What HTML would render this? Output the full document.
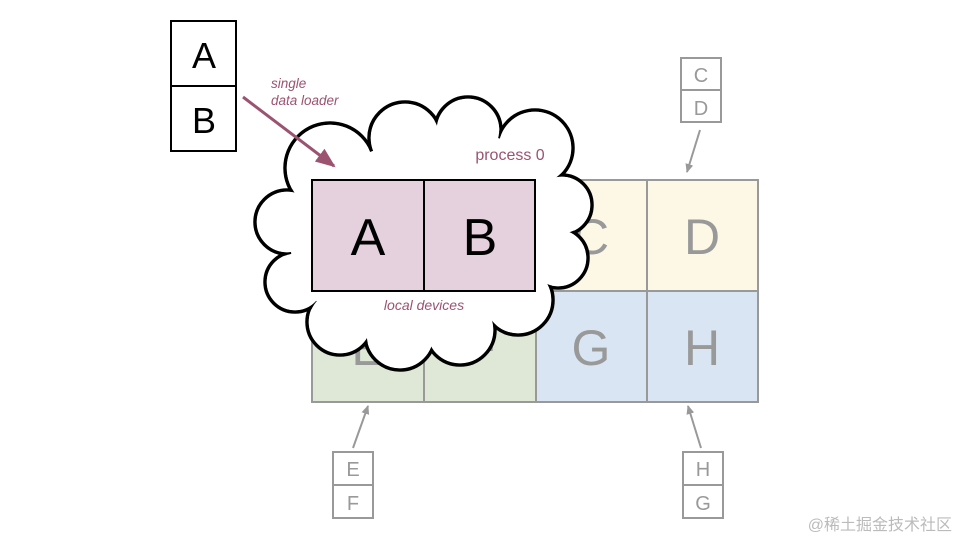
<!DOCTYPE html>
<html><head><style>
body{margin:0;background:#fff;}
text{font-family:"Liberation Sans",Arial,sans-serif;}
</style></head><body>
<svg width="960" height="540" viewBox="0 0 960 540" xmlns="http://www.w3.org/2000/svg">
<defs>
<marker id="ag" markerWidth="10" markerHeight="10" refX="8" refY="5" orient="auto" markerUnits="userSpaceOnUse"><path d="M0,1 L9,5 L0,9 z" fill="#999"/></marker>
<marker id="ap" markerWidth="22" markerHeight="22" refX="18" refY="11" orient="auto" markerUnits="userSpaceOnUse"><path d="M0,3 L20,11 L0,19 z" fill="#9b5370"/></marker>
</defs>
<rect x="536" y="180" width="222" height="111" fill="#fdf8e6"/>
<rect x="536" y="291" width="222" height="111" fill="#d9e5f2"/>
<rect x="312" y="291" width="224" height="111" fill="#dfe8d6"/>
<g stroke="#999" stroke-width="2" fill="none">
<rect x="312" y="180" width="446" height="222"/>
<line x1="424" y1="180" x2="424" y2="402"/><line x1="536" y1="180" x2="536" y2="402"/><line x1="647" y1="180" x2="647" y2="402"/>
<line x1="312" y1="291" x2="758" y2="291"/>
</g>
<g fill="#999" font-size="50" text-anchor="middle">
<text x="591" y="254">C</text><text x="702" y="254">D</text>
<text x="368" y="365">E</text><text x="480" y="365">F</text>
<text x="591" y="365">G</text><text x="702" y="365">H</text>
</g>
<g stroke="#999" stroke-width="2" fill="#fff">
<rect x="681" y="58" width="40" height="64"/><line x1="681" y1="90" x2="721" y2="90"/>
<rect x="333" y="452" width="40" height="66"/><line x1="333" y1="485" x2="373" y2="485"/>
<rect x="683" y="452" width="40" height="66"/><line x1="683" y1="485" x2="723" y2="485"/>
</g>
<g fill="#999" font-size="20" text-anchor="middle">
<text x="701" y="82">C</text><text x="701" y="115">D</text>
<text x="353" y="476">E</text><text x="353" y="510">F</text>
<text x="703" y="476">H</text><text x="703" y="510">G</text>
</g>
<g stroke="#999" stroke-width="2">
<line x1="700" y1="130" x2="687" y2="172" marker-end="url(#ag)"/>
<line x1="353" y1="448" x2="368" y2="406" marker-end="url(#ag)"/>
<line x1="701" y1="448" x2="688" y2="406" marker-end="url(#ag)"/>
</g>
<g stroke="#000" stroke-width="3.5" fill="#fff">
<circle cx="330" cy="168" r="45"/><circle cx="405" cy="138" r="36"/><circle cx="468" cy="130" r="33"/>
<circle cx="535" cy="148" r="38"/><circle cx="562" cy="205" r="30"/><circle cx="558" cy="258" r="30"/>
<circle cx="518" cy="300" r="35"/><circle cx="460" cy="330" r="35"/><circle cx="400" cy="335" r="35"/>
<circle cx="340" cy="322" r="33"/><circle cx="295" cy="282" r="30"/><circle cx="287" cy="222" r="32"/>
</g>
<g fill="#fff">
<circle cx="330" cy="168" r="43.2"/><circle cx="405" cy="138" r="34.2"/><circle cx="468" cy="130" r="31.2"/>
<circle cx="535" cy="148" r="36.2"/><circle cx="562" cy="205" r="28.2"/><circle cx="558" cy="258" r="28.2"/>
<circle cx="518" cy="300" r="33.2"/><circle cx="460" cy="330" r="33.2"/><circle cx="400" cy="335" r="33.2"/>
<circle cx="340" cy="322" r="31.2"/><circle cx="295" cy="282" r="28.2"/><circle cx="287" cy="222" r="30.2"/>
<polygon points="330,168 405,138 468,130 535,148 562,205 558,258 518,300 460,330 400,335 340,322 295,282 287,222"/>
</g>
<rect x="312" y="180" width="223" height="111" fill="#e5d0dd" stroke="#000" stroke-width="2"/>
<line x1="424" y1="180" x2="424" y2="291" stroke="#000" stroke-width="2"/>
<g font-size="52" text-anchor="middle" fill="#000">
<text x="368" y="255">A</text><text x="480" y="255">B</text>
</g>
<text x="510" y="160" font-size="16" fill="#9b5370" text-anchor="middle">process 0</text>
<text x="424" y="310" font-size="14" font-style="italic" fill="#9b5370" text-anchor="middle">local devices</text>
<g stroke="#000" stroke-width="2" fill="#fff">
<rect x="171" y="21" width="65" height="130"/><line x1="171" y1="86" x2="236" y2="86"/>
</g>
<g font-size="36" text-anchor="middle"><text x="204" y="68">A</text><text x="204" y="133">B</text></g>
<text x="271" y="88" font-size="13.5" font-style="italic" fill="#9b5370">single</text>
<text x="271" y="105" font-size="13.5" font-style="italic" fill="#9b5370">data loader</text>
<line x1="243" y1="97" x2="334" y2="166" stroke="#9b5370" stroke-width="3" marker-end="url(#ap)"/>
<text x="952" y="530" font-size="16" fill="#bbb" text-anchor="end" style="font-family:'Liberation Sans','Noto Sans CJK SC',sans-serif">@稀土掘金技术社区</text>
</svg>
</body></html>
